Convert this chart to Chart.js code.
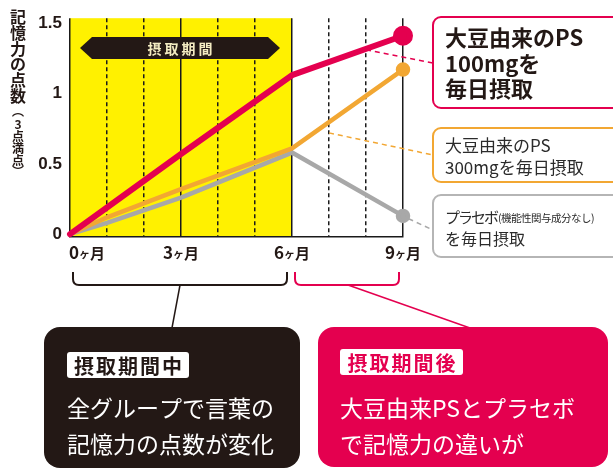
<!DOCTYPE html>
<html>
<head>
<meta charset="utf-8">
<script src="https://cdn.jsdelivr.net/npm/chart.js@4.4.1/dist/chart.umd.min.js"></script>
<style>
  html, body { margin: 0; padding: 0; background: #fff; }
  canvas { display: block; }
</style>
</head>
<body>
<canvas id="memchart" width="613" height="471"></canvas>
<script>
// months on the x axis, scores (out of 3)
var months = [0, 1, 3, 6, 9];
var ps100 = [0, 0.19, 0.57, 1.13, 1.41];
var ps300 = [0, 0.12, 0.32, 0.61, 1.17];
var placebo = [0, 0.08, 0.26, 0.58, 0.13];
var labelMonths = [0, 3, 6, 9];
var yTicks = [0, 0.5, 1, 1.5];
var intakeEnd = 6;

var RED = '#e4004f';
var ORANGE = '#f2a733';
var GRAY = '#a8a8a8';
var INK = '#231815';
var JP = '"Noto Sans CJK JP", sans-serif';

function toPoints(values) {
  return values.map(function (v, i) { return {x: months[i], y: v}; });
}

function endRadius(r) {
  return function (c) { return c.dataIndex === months.length - 1 ? r : 0; };
}

function dashed(ctx, x1, y1, x2, y2, color) {
  ctx.save();
  ctx.strokeStyle = color;
  ctx.lineWidth = 1.5;
  ctx.setLineDash([5, 4]);
  ctx.beginPath();
  ctx.moveTo(x1, y1);
  ctx.lineTo(x2, y2);
  ctx.stroke();
  ctx.restore();
}

function box(ctx, x, y, w, h, r, fill, stroke) {
  ctx.beginPath();
  ctx.roundRect(x, y, w, h, r);
  if (fill) { ctx.fillStyle = fill; ctx.fill(); }
  if (stroke) { ctx.strokeStyle = stroke; ctx.lineWidth = 2; ctx.stroke(); }
}

function bracket(ctx, x1, x2, top, bottom, color) {
  var r = 6;
  ctx.save();
  ctx.strokeStyle = color;
  ctx.lineWidth = 2;
  ctx.beginPath();
  ctx.moveTo(x1, top);
  ctx.lineTo(x1, bottom - r);
  ctx.quadraticCurveTo(x1, bottom, x1 + r, bottom);
  ctx.lineTo(x2 - r, bottom);
  ctx.quadraticCurveTo(x2, bottom, x2, bottom - r);
  ctx.lineTo(x2, top);
  ctx.stroke();
  ctx.restore();
}

function lines(ctx, rows, x, y0, step) {
  rows.forEach(function (t, i) { ctx.fillText(t, x, y0 + i * step); });
}

var decor = {
  id: 'decor',
  beforeDraw: function (chart) {
    // yellow intake period behind the grid
    var ctx = chart.ctx, a = chart.chartArea, x = chart.scales.x;
    var x0 = x.getPixelForValue(0), x6 = x.getPixelForValue(intakeEnd);
    ctx.save();
    ctx.fillStyle = '#fff100';
    ctx.fillRect(x0, a.top, x6 - x0, a.bottom - a.top);
    ctx.restore();
  },
  beforeDatasetsDraw: function (chart) {
    var ctx = chart.ctx, x = chart.scales.x, y = chart.scales.y;
    var left = x.getPixelForValue(0) + 10, right = x.getPixelForValue(intakeEnd) - 12;
    var cy = 48;
    ctx.save();
    ctx.fillStyle = INK;
    ctx.beginPath();
    ctx.moveTo(left, cy);
    ctx.lineTo(left + 12, cy - 11);
    ctx.lineTo(right - 12, cy - 11);
    ctx.lineTo(right, cy);
    ctx.lineTo(right - 12, cy + 11);
    ctx.lineTo(left + 12, cy + 11);
    ctx.closePath();
    ctx.fill();
    ctx.fillStyle = '#f4ecc2';
    ctx.font = 'bold 14px ' + JP;
    ctx.textAlign = 'center';
    ctx.textBaseline = 'middle';
    ctx.letterSpacing = '3px';
    ctx.fillText('摂取期間', (left + right) / 2 + 1.5, cy + 1);
    ctx.restore();

    // leader lines to the labels on the right
    dashed(ctx, x.getPixelForValue(8), y.getPixelForValue(1.31), 433, 63, RED);
    dashed(ctx, x.getPixelForValue(7), y.getPixelForValue(0.72), 433, 155, ORANGE);
    dashed(ctx, x.getPixelForValue(9.15), y.getPixelForValue(0.11), 433, 230, GRAY);
  },
  afterDraw: function (chart) {
    var ctx = chart.ctx, x = chart.scales.x;
    ctx.save();

    // x labels: "Nヶ月" with a small ヶ
    ctx.fillStyle = INK;
    ctx.textBaseline = 'alphabetic';
    ctx.textAlign = 'left';
    labelMonths.forEach(function (m, i) {
      var px = x.getPixelForValue(m);
      var d = String(m);
      ctx.font = 'bold 17px ' + JP;
      var w1 = ctx.measureText(d).width;
      ctx.font = 'bold 11px ' + JP;
      var w2 = ctx.measureText('ヶ').width;
      ctx.font = 'bold 15px ' + JP;
      var w3 = ctx.measureText('月').width;
      var start = i === 0 ? px - 1 : px - (w1 + w2 + w3) / 2;
      ctx.font = 'bold 17px ' + JP;
      ctx.fillText(d, start, 259);
      ctx.font = 'bold 11px ' + JP;
      ctx.fillText('ヶ', start + w1, 258);
      ctx.font = 'bold 15px ' + JP;
      ctx.fillText('月', start + w1 + w2, 259);
    });

    // vertical y title
    ctx.textAlign = 'center';
    ctx.textBaseline = 'middle';
    ctx.font = 'bold 16px ' + JP;
    '記憶力の点数'.split('').forEach(function (c, i) { ctx.fillText(c, 18, 17 + i * 15.8); });
    ctx.font = 'bold 12px ' + JP;
    ['︵', '3', '点', '満', '点', '︶'].forEach(function (c, i) {
      ctx.fillText(c, 18, [111, 124, 136, 148, 160, 171][i]);
    });

    // right hand labels
    ctx.textAlign = 'left';
    box(ctx, 433, 17, 200, 91, 8, '#fff', RED);
    box(ctx, 433, 128, 200, 54, 8, '#fff', ORANGE);
    box(ctx, 433, 195, 200, 62, 8, '#fff', '#b5b5b5');
    ctx.fillStyle = INK;
    ctx.font = 'bold 22px ' + JP;
    lines(ctx, ['大豆由来のPS', '100mgを', '毎日摂取'], 445, 38, 25.5);
    ctx.fillStyle = '#2b2b2b';
    ctx.font = '17px ' + JP;
    lines(ctx, ['大豆由来のPS', '300mgを毎日摂取'], 445, 146, 22);
    ctx.font = '15px ' + JP;
    ctx.letterSpacing = '-2px';
    ctx.fillText('プラセボ', 445, 217);
    var pw = ctx.measureText('プラセボ').width;
    ctx.letterSpacing = '-0.5px';
    ctx.font = '10.5px ' + JP;
    ctx.fillText('(機能性関与成分なし)', 445 + pw + 1, 218);
    ctx.letterSpacing = '0px';
    ctx.font = '16px ' + JP;
    ctx.fillText('を毎日摂取', 445, 239);

    // brackets under the x axis
    bracket(ctx, x.getPixelForValue(0) + 3, x.getPixelForValue(intakeEnd) - 5, 272, 285, INK);
    bracket(ctx, x.getPixelForValue(intakeEnd) + 3, x.getPixelForValue(9) - 4, 272, 285, RED);
    ctx.lineWidth = 1.5;
    ctx.strokeStyle = INK;
    ctx.beginPath(); ctx.moveTo(180, 285); ctx.lineTo(172, 328); ctx.stroke();
    ctx.strokeStyle = RED;
    ctx.beginPath(); ctx.moveTo(348, 285); ctx.lineTo(470, 328); ctx.stroke();

    // bottom panels
    box(ctx, 44, 327, 256, 141, 16, INK);
    box(ctx, 318, 327, 290, 140, 16, RED);
    box(ctx, 67, 352, 122, 26, 3, '#fff');
    box(ctx, 340, 349, 123, 26, 3, '#fff');
    ctx.textAlign = 'center';
    ctx.font = 'bold 20px ' + JP;
    ctx.letterSpacing = '2px';
    ctx.fillStyle = INK;
    ctx.fillText('摂取期間中', 129, 366);
    ctx.fillStyle = RED;
    ctx.fillText('摂取期間後', 402.5, 363);
    ctx.letterSpacing = '0px';
    ctx.textAlign = 'left';
    ctx.fillStyle = '#fff';
    ctx.font = '23px ' + JP;
    lines(ctx, ['全グループで言葉の', '記憶力の点数が変化'], 67, 408, 36);
    lines(ctx, ['大豆由来PSとプラセボ', 'で記憶力の違いが'], 340, 408, 36);
    ctx.restore();
  }
};

new Chart(document.getElementById('memchart'), {
  type: 'line',
  data: {
    datasets: [
      {label: '大豆由来のPS 100mg', data: toPoints(ps100), borderColor: RED, backgroundColor: RED,
       borderWidth: 6, pointRadius: endRadius(7), order: 1, clip: false},
      {label: '大豆由来のPS 300mg', data: toPoints(ps300), borderColor: ORANGE, backgroundColor: ORANGE,
       borderWidth: 4.5, pointRadius: endRadius(5), order: 2, clip: false},
      {label: 'プラセボ', data: toPoints(placebo), borderColor: GRAY, backgroundColor: GRAY,
       borderWidth: 4.5, pointRadius: endRadius(5), order: 3, clip: false}
    ]
  },
  options: {
    responsive: false,
    animation: false,
    elements: {line: {borderJoinStyle: 'round', borderCapStyle: 'round', tension: 0}, point: {borderWidth: 0, hoverRadius: 0}},
    layout: {padding: {top: 14, right: 210, bottom: 234, left: 0}},
    plugins: {legend: {display: false}, tooltip: {enabled: false}},
    scales: {
      x: {
        type: 'linear', min: 0, max: 9, position: 'bottom',
        ticks: {display: false, stepSize: 3},
        grid: {color: '#1a1a1a', lineWidth: 1.5, drawTicks: false},
        border: {display: true, color: '#1a1a1a', width: 1.5},
        afterFit: function (s) { s.height = 0; }
      },
      x2: {
        type: 'linear', min: 0, max: 9, position: 'bottom',
        ticks: {display: false, stepSize: 1},
        grid: {
          lineWidth: 1.5, drawTicks: false,
          color: function (c) { return c.tick && c.tick.value % 3 ? '#1a1a1a' : 'rgba(0,0,0,0)'; }
        },
        border: {display: false, dash: [4, 3]},
        afterFit: function (s) { s.height = 0; }
      },
      y: {
        min: -0.02, max: 1.535,
        afterBuildTicks: function (s) { s.ticks = yTicks.map(function (v) { return {value: v}; }); },
        ticks: {
          color: INK, padding: 8,
          font: {family: '"Liberation Sans", Arial, sans-serif', size: 17, weight: 'bold'},
          callback: function (v) { return String(v); }
        },
        grid: {display: false, drawTicks: false},
        border: {display: false},
        afterFit: function (s) { s.width = 70; }
      }
    }
  },
  plugins: [decor]
});
</script>
</body>
</html>
